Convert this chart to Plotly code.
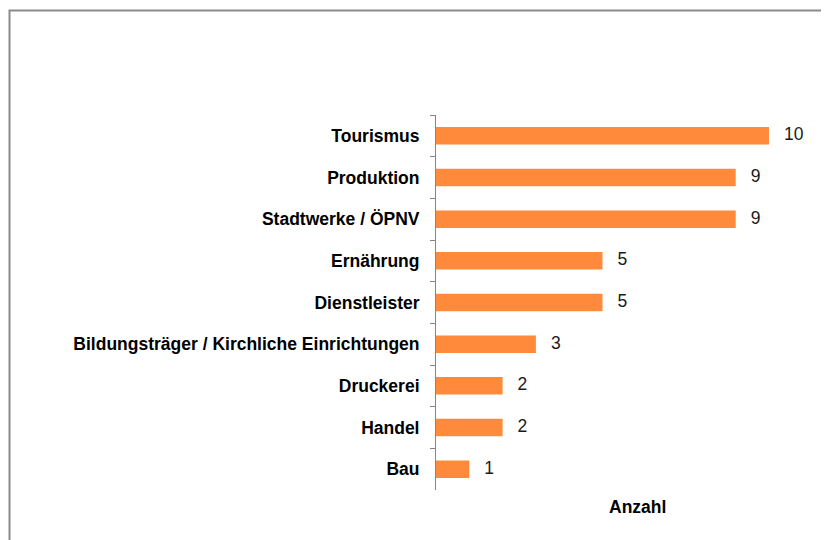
import plotly.graph_objects as go

categories = ["Tourismus", "Produktion", "Stadtwerke / ÖPNV", "Ernährung", "Dienstleister",
              "Bildungsträger / Kirchliche Einrichtungen", "Druckerei", "Handel", "Bau"]
values = [10, 9, 9, 5, 5, 3, 2, 2, 1]
x_title = "Anzahl"

# page body has an 8px margin; work in screen pixels and convert
OFF = 8
W, H = 829 - OFF, 540 - OFF
ML, MT = 436 - OFF, 115 - OFF
MR = W - (820 - OFF)
MB = H - (490 - OFF)
pw = W - ML - MR
ph = H - MT - MB
px_per_unit = 33.3
xmax = pw / px_per_unit

label_offset = 15 / px_per_unit

fig = go.Figure()
fig.add_trace(go.Bar(
    y=categories, x=values, orientation="h",
    marker=dict(color="#FF8A3B", line=dict(width=0)),
    width=0.42, hoverinfo="skip",
))
fig.add_trace(go.Scatter(
    y=categories, x=[v + label_offset for v in values],
    mode="text", text=[str(v) for v in values],
    textposition="middle right",
    textfont=dict(family="Liberation Sans, Arial", size=17.5, color="#1a1a1a"),
    hoverinfo="skip", cliponaxis=False,
))

def px_x(p):
    return (p - OFF - ML) / pw

def px_y(p):
    return (H - MB - (p - OFF)) / ph

fig.update_layout(
    width=W, height=H,
    margin=dict(l=ML, r=MR, t=MT, b=MB),
    paper_bgcolor="white", plot_bgcolor="white",
    showlegend=False,
    font=dict(family="Liberation Sans, Arial", size=17, color="#000"),
    xaxis=dict(range=[0, xmax], visible=False, fixedrange=True),
    yaxis=dict(
        autorange="reversed", showline=True, linecolor="#868686", linewidth=1,
        ticks="outside", ticklen=5, tickcolor="#868686", tickwidth=1,
        tickson="boundaries", showgrid=False, zeroline=False,
        tickfont=dict(family="Liberation Sans, Arial", size=17.5, color="#000", weight="bold"),
        ticklabelstandoff=12,
    ),
    annotations=[dict(
        text="<b>" + x_title + "</b>", xref="paper", yref="paper",
        x=px_x(637), y=px_y(507), xanchor="center", yanchor="middle",
        showarrow=False, font=dict(size=17.5, color="#000"),
    )],
    shapes=[dict(
        type="path", xref="paper", yref="paper",
        path=f"M {px_x(9.5)} {px_y(545)} L {px_x(9.5)} {px_y(10.5)} L {px_x(835)} {px_y(10.5)}",
        line=dict(color="#8a8a8a", width=2),
    )],
)

fig.write_html("out.html")
